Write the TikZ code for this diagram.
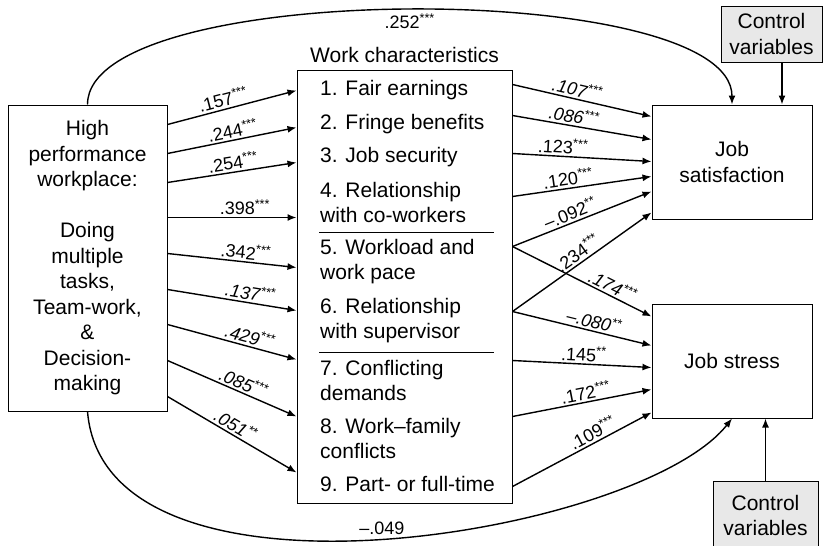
\documentclass[tikz,border=0pt]{standalone}
\usepackage{fontspec}
\setmainfont{Liberation Sans}
\usetikzlibrary{arrows.meta,positioning}

\tikzset{
  box/.style={draw,line width=1pt,inner sep=0pt,align=center,font=\fontsize{21}{25.5}\selectfont},
  ctrl/.style={box,fill=gray!18},
  item/.style={anchor=west,inner sep=0pt,align=left,font=\fontsize{21}{25}\selectfont},
  link/.style={line width=1.4pt,-{Latex[length=9pt,width=7pt]}},
  coef/.style={sloped,above=1pt,inner sep=1pt,font=\fontsize{18}{18}\selectfont},
}
\newcommand{\stars}[1]{\textsuperscript{#1}}

\begin{document}
\begin{tikzpicture}[x=1pt,y=-1pt]
  \useasboundingbox (0,0) rectangle (825,546);

  % boxes
  \node[box,minimum width=159pt,minimum height=306pt] (hpw) at (87.5,258)
    {High\\performance\\workplace:\\[25.5pt]Doing\\multiple\\tasks,\\Team-work,\\\&\\Decision-\\making};
  \node[box,minimum width=215pt,minimum height=433pt] (wc) at (404.5,286.5) {};
  \node[above=7pt of wc,inner sep=0pt,font=\fontsize{21}{25}\selectfont] (wctitle) {Work characteristics};
  \node[box,minimum width=160pt,minimum height=114pt] (sat) at (732,162) {Job\\satisfaction};
  \node[box,minimum width=160pt,minimum height=114pt] (stress) at (732,361) {Job stress};
  \node[ctrl,minimum width=101pt,minimum height=56pt] (ctla) at (771.5,34) {Control\\variables};
  \node[ctrl,minimum width=105pt,minimum height=69pt] (ctlb) at (765.5,515.5) {Control\\variables};

  % the nine work characteristics
  \foreach \y/\txt [count=\i] in {90/{1. Fair earnings}, 124/{2. Fringe benefits}, 157/{3. Job security},
      202.5/{4. Relationship\\with co-workers}, 261.5/{5. Workload and\\work pace},
      320.5/{6. Relationship\\with supervisor}, 380/{7. Conflicting\\demands},
      438.5/{8. Work--family\\conflicts}, 484/{9. Part- or full-time}}
    \node[item] (it\i) at (320,\y) {\txt};
  \draw[line width=1pt] (319,232) -- (494,232);
  \draw[line width=1pt] (319,352) -- (494,352);

  % workplace -> work characteristics
  \foreach \a/\b/\p/\sh/\v in {20/21/.45/\upshape/.157\stars{***}, 49/58/.52/\upshape/.244\stars{***},
      78/93/.52/\upshape/.254\stars{***}, 113/148/.6/\upshape/.398\stars{***},
      149/198/.6/\upshape/.342\stars{***}, 185/241/.63/\itshape/.137\stars{***},
      220/290/.62/\itshape/.429\stars{***}, 256/347/.56/\itshape/.085\stars{***},
      292/403/.49/\itshape/.051\stars{**}}
    \draw[link] ([yshift=-\a pt]hpw.north east) -- ([yshift=-\b pt]wc.north west) node[coef,pos=\p] {\sh\v};

  % work characteristics -> job satisfaction
  \foreach \a/\b/\p/\sh/\v in {15/12/.45/\itshape/.107\stars{***}, 46/35/.43/\itshape/.086\stars{***},
      84/57/.36/\upshape/.123\stars{***}, 127/72/.41/\upshape/.120\stars{***},
      177/87/.44/\upshape/--.092\stars{**}, 242/108/.51/\upshape/.234\stars{***}}
    \draw[link] ([yshift=-\a pt]wc.north east) -- ([yshift=-\b pt]sat.north west) node[coef,pos=\p] {\sh\v};

  % work characteristics -> job stress
  \foreach \a/\b/\p/\sh/\v in {177/13/.69/\itshape/.174\stars{***}, 242/42/.57/\itshape/--.080\stars{**},
      291/64/.51/\upshape/.145\stars{**}, 347/86/.54/\upshape/.172\stars{***},
      417/109/.61/\upshape/.109\stars{***}}
    \draw[link] ([yshift=-\a pt]wc.north east) -- ([yshift=-\b pt]stress.north west) node[coef,pos=\p] {\sh\v};

  % direct effects
  \draw[link] (hpw.north) .. controls +(0,-126) and +(0,-126) .. (sat.north)
    node[pos=.5,below=3pt,inner sep=0pt,font=\fontsize{18}{18}\selectfont] {.252\stars{***}};
  \draw[link] (hpw.south) .. controls (105,625) and (640,535) .. (stress.south)
    node[pos=.5,above=3pt,inner sep=0pt,font=\fontsize{18}{18}\selectfont] {--.049};

  % controls
  \draw[link] ([xshift=10.5pt]ctla.south) -- ([xshift=10.5pt]ctla.south |- sat.north);
  \draw[link] (ctlb.north) -- (ctlb.north |- stress.south);
\end{tikzpicture}
\end{document}
